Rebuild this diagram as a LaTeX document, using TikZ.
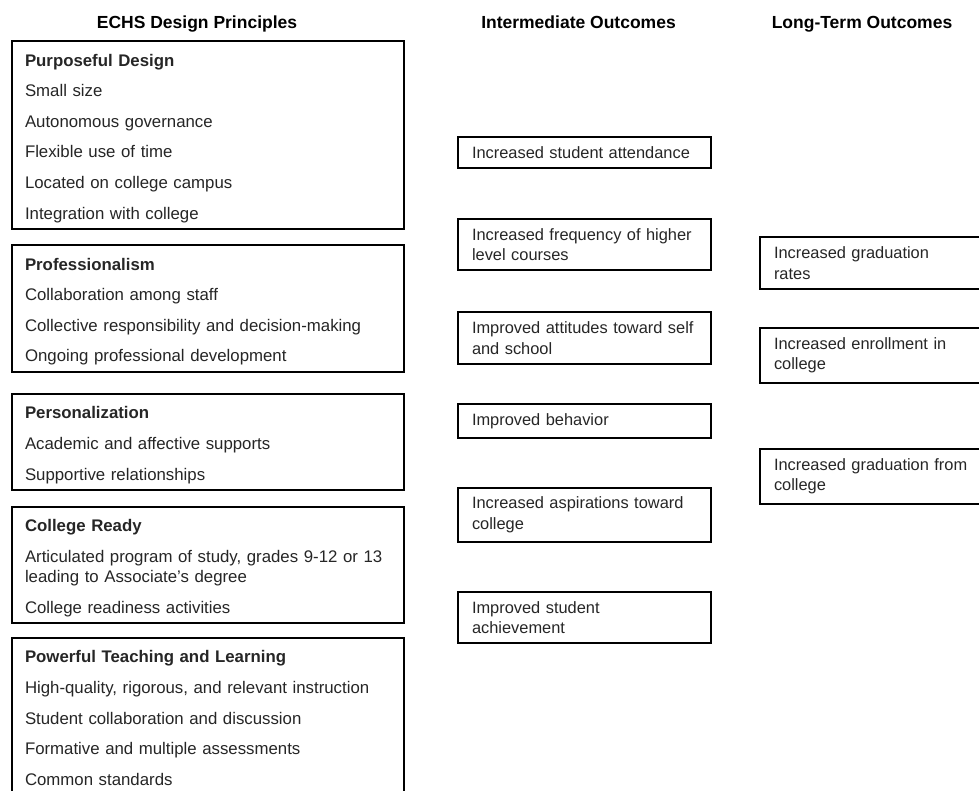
\documentclass[tikz,border=0pt]{standalone}
\usepackage{fontspec}
\setmainfont{Liberation Sans}
\begin{document}
\begin{tikzpicture}[x=1pt, y=-1pt]
    \tikzstyle{heading} = [font=\fontsize{17.5}{20}\selectfont\bfseries, inner sep=0pt, anchor=base]
    \tikzstyle{principle} = [rectangle, draw, line width=1.8pt, align=left, text width=366pt, inner xsep=13pt, inner ysep=0pt, minimum width=392pt, font=\fontsize{16.8}{30.6}\selectfont, text=black!85]
    \tikzstyle{outcome} = [rectangle, draw, line width=1.8pt, align=left, text width=225pt, inner xsep=14pt, inner ysep=9.5pt, minimum width=253pt, font=\fontsize{16.4}{20.5}\selectfont, text=black!85]
    \newcommand{\toppad}{\rule{0pt}{18.5pt}}

    \clip (0,0) rectangle (979,791);
    \fill[white] (0,0) rectangle (979,791);

    % column headings
    \node [heading] (hdesign) at (197,28.5) {ECHS Design Principles};
    \node [heading] (hinter) at (578.5,28.5) {Intermediate Outcomes};
    \node [heading] (hlong) at (862,28.5) {Long-Term Outcomes};

    % design principles
    \node [principle, minimum height=188pt] (purpose) at (208,135) {\toppad\textbf{Purposeful Design}\\Small size\\Autonomous governance\\Flexible use of time\\Located on college campus\\Integration with college};
    \node [principle, minimum height=127pt] (profess) at (208,308.5) {\toppad\textbf{Professionalism}\\Collaboration among staff\\Collective responsibility and decision-making\\Ongoing professional development};
    \node [principle, minimum height=96pt] (person) at (208,442) {\toppad\textbf{Personalization}\\Academic and affective supports\\Supportive relationships};
    \node [principle, minimum height=116pt] (ready) at (208,565) {\toppad\textbf{College Ready}\\Articulated program of study, grades 9-12 or 13\\[-10.6pt]leading to Associate's degree\\College readiness activities};
    \node [principle, minimum height=154pt] (teach) at (208,715) {\toppad\textbf{Powerful Teaching and Learning}\\High-quality, rigorous, and relevant instruction\\Student collaboration and discussion\\Formative and multiple assessments\\Common standards};

    % intermediate outcomes
    \node [outcome] (attend) at (584.5,152.5) {Increased student attendance};
    \node [outcome] (courses) at (584.5,244.5) {Increased frequency of higher\\level courses};
    \node [outcome] (attitude) at (584.5,338) {Improved attitudes toward self\\and school};
    \node [outcome] (behave) at (584.5,421) {Improved behavior};
    \node [outcome] (aspire) at (584.5,515) {Increased aspirations toward\\college};
    \node [outcome] (achieve) at (584.5,617.5) {Improved student\\achievement};

    % long-term outcomes
    \node [outcome] (gradrate) at (886.5,263) {Increased graduation\\rates};
    \node [outcome] (enroll) at (886.5,355.5) {Increased enrollment in\\college};
    \node [outcome] (gradcoll) at (886.5,476.5) {Increased graduation from\\college};
\end{tikzpicture}
\end{document}
